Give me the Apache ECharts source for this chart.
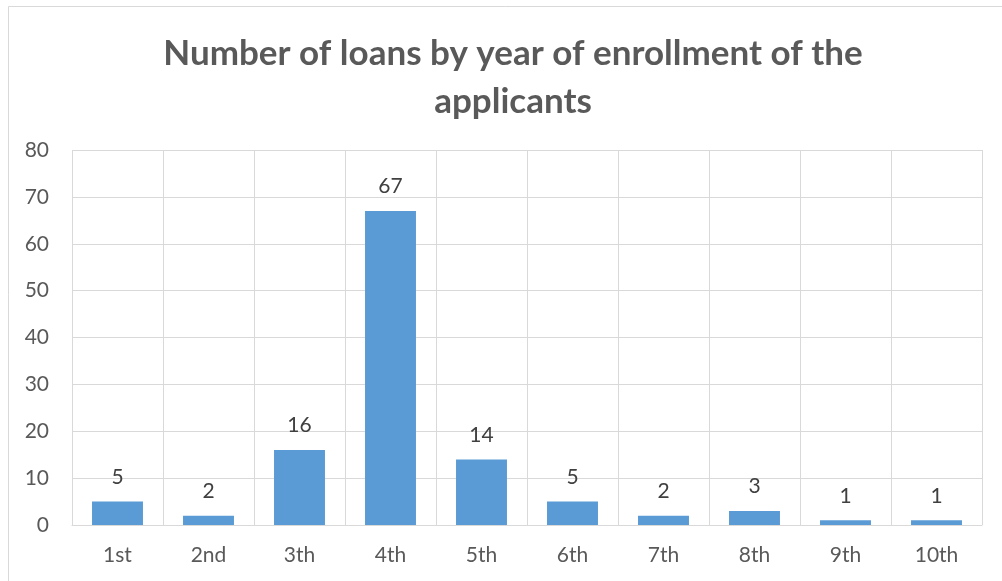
<!DOCTYPE html>
<html>
<head>
<meta charset="utf-8">
<script src="https://cdn.jsdelivr.net/npm/echarts@6/dist/echarts.min.js"></script>
<style>
  html, body { margin: 0; padding: 0; background: #ffffff; }
  #chart { width: 1002px; height: 581px; }
</style>
</head>
<body>
<div id="chart"></div>
<script>
// Year of enrollment categories and the number of loans in each
const categories = ['1st', '2nd', '3th', '4th', '5th', '6th', '7th', '8th', '9th', '10th'];
const loans = [5, 2, 16, 67, 14, 5, 2, 3, 1, 1];
const titleText = 'Number of loans by year of enrollment of the\napplicants';

const FONT = 'Lato, "Open Sans", sans-serif';
const chart = echarts.init(document.getElementById('chart'), null, { renderer: 'canvas' });

chart.setOption({
  backgroundColor: '#ffffff',
  animation: false,
  graphic: [{
    type: 'rect',
    shape: { x: 8.5, y: 6.5, width: 1100, height: 700 },
    style: { fill: 'none', stroke: '#D9D9D9', lineWidth: 1 },
    silent: true
  }],
  title: {
    text: titleText,
    left: 508,
    top: 25,
    textAlign: 'center',
    textStyle: {
      fontFamily: FONT,
      fontWeight: 'bold',
      fontSize: 35,
      color: '#595959',
      lineHeight: 48
    }
  },
  grid: { left: 72, right: 20, top: 150, bottom: 56, containLabel: false },
  xAxis: {
    type: 'category',
    data: categories,
    boundaryGap: true,
    axisLine: { show: true, lineStyle: { color: '#D9D9D9', width: 1 } },
    axisTick: { show: false },
    splitLine: { show: true, lineStyle: { color: '#D9D9D9', width: 1 } },
    axisLabel: { color: '#595959', fontFamily: FONT, fontSize: 21, margin: 20 }
  },
  yAxis: {
    type: 'value',
    min: 0,
    max: 80,
    interval: 10,
    axisLine: { show: false },
    axisTick: { show: false },
    splitLine: { show: true, lineStyle: { color: '#D9D9D9', width: 1 } },
    axisLabel: { color: '#595959', fontFamily: FONT, fontSize: 21, margin: 23 }
  },
  series: [{
    type: 'bar',
    data: loans,
    barWidth: '56%',
    itemStyle: { color: '#5B9BD5' },
    label: {
      show: true,
      position: 'top',
      distance: 14,
      color: '#404040',
      fontFamily: FONT,
      fontSize: 21
    }
  }]
});
</script>
</body>
</html>
